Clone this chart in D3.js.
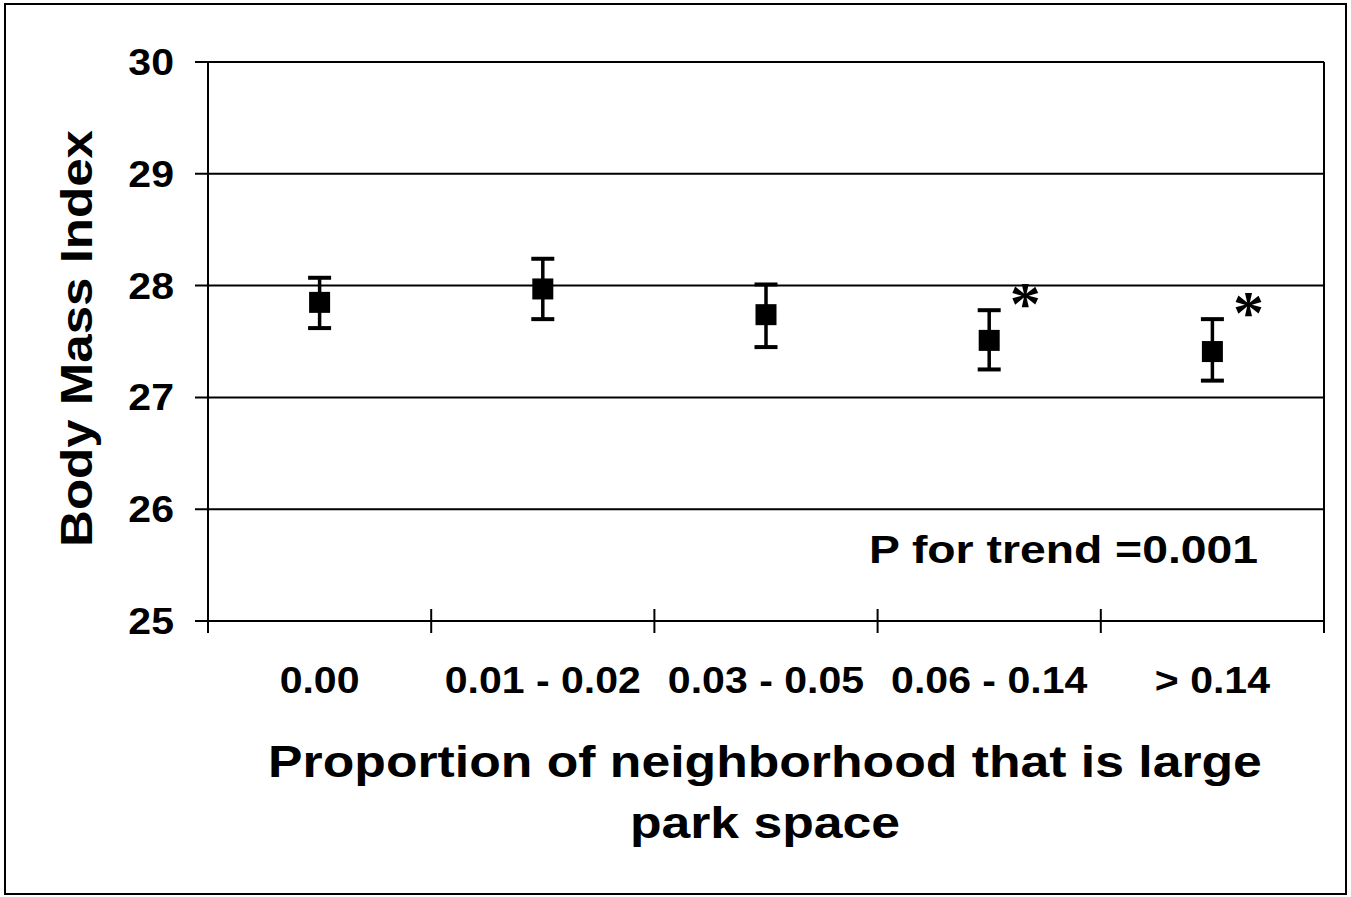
<!DOCTYPE html>
<html>
<head>
<meta charset="utf-8">
<script src="https://cdn.jsdelivr.net/npm/d3@7"></script>
<style>
  html, body { margin: 0; padding: 0; background: #fff; }
  svg { display: block; }
  text { font-family: "Liberation Sans", Arial, sans-serif; font-weight: bold; fill: #000; }
</style>
</head>
<body>
<script>
// ---- data ----
const categories = ["0.00", "0.01 - 0.02", "0.03 - 0.05", "0.06 - 0.14", "> 0.14"];
const bmiMean  = [27.85, 27.97, 27.74, 27.51, 27.41];
const bmiUpper = [28.07, 28.24, 28.01, 27.78, 27.70];
const bmiLower = [27.62, 27.70, 27.45, 27.25, 27.15];
const significant = [false, false, false, true, true];
const yTicks = [25, 26, 27, 28, 29, 30];
const yTitle = "Body Mass Index";
const xTitleLines = ["Proportion of neighborhood that is large", "park space"];
const annotation = "P for trend =0.001";

const W = 1351, H = 897;
const SX = 1.14; // horizontal glyph stretch seen in the reference

const svg = d3.select("body").append("svg").attr("width", W).attr("height", H);

svg.append("rect").attr("x", 5).attr("y", 4).attr("width", 1341).attr("height", 890)
  .attr("fill", "#fff").attr("stroke", "#000").attr("stroke-width", 2);

const pLeft = 208, pRight = 1324, pTop = 62, pBottom = 621;
const x = d3.scaleBand().domain(categories).range([pLeft, pRight]).padding(0);
const y = d3.scaleLinear().domain([25, 30]).range([pBottom, pTop]);

function stretch(sel, f) {
  sel.each(function () {
    const w = this.getComputedTextLength();
    d3.select(this).attr("textLength", w * (f || SX)).attr("lengthAdjust", "spacingAndGlyphs");
  });
}

// gridlines + y ticks
const g = svg.append("g");
g.selectAll("line.grid").data(yTicks).join("line")
  .attr("x1", pLeft - 13).attr("x2", pRight)
  .attr("y1", d => y(d)).attr("y2", d => y(d))
  .attr("stroke", "#000").attr("stroke-width", 2);

// left axis and right border
[pLeft, pRight].forEach(xx => {
  g.append("line").attr("x1", xx).attr("x2", xx).attr("y1", pTop).attr("y2", pBottom + 12)
    .attr("stroke", "#000").attr("stroke-width", 2);
});
// x category boundary ticks
const bounds = categories.slice(1).map(c => x(c));
g.selectAll("line.xt").data(bounds).join("line")
  .attr("x1", d => d).attr("x2", d => d)
  .attr("y1", pBottom - 12).attr("y2", pBottom + 12)
  .attr("stroke", "#000").attr("stroke-width", 2);

// y tick labels
const yl = g.selectAll("text.yl").data(yTicks).join("text")
  .attr("x", 174).attr("y", d => y(d) + 13)
  .attr("text-anchor", "end").attr("font-size", 36)
  .text(d => d);
stretch(yl);

// x tick labels
const xl = g.selectAll("text.xl").data(categories).join("text")
  .attr("x", d => x(d) + x.bandwidth() / 2).attr("y", 693)
  .attr("text-anchor", "middle").attr("font-size", 36)
  .text(d => d);
stretch(xl);

// error bars
const pts = categories.map((c, i) => ({ c, m: bmiMean[i], hi: bmiUpper[i], lo: bmiLower[i], sig: significant[i] }));
const cx = d => x(d.c) + x.bandwidth() / 2;
const eb = svg.append("g");
eb.selectAll("line.stem").data(pts).join("line")
  .attr("x1", cx).attr("x2", cx).attr("y1", d => y(d.hi)).attr("y2", d => y(d.lo))
  .attr("stroke", "#000").attr("stroke-width", 3.5);
eb.selectAll("line.capt").data(pts).join("line")
  .attr("x1", d => cx(d) - 11.5).attr("x2", d => cx(d) + 11.5)
  .attr("y1", d => y(d.hi)).attr("y2", d => y(d.hi))
  .attr("stroke", "#000").attr("stroke-width", 4);
eb.selectAll("line.capb").data(pts).join("line")
  .attr("x1", d => cx(d) - 11.5).attr("x2", d => cx(d) + 11.5)
  .attr("y1", d => y(d.lo)).attr("y2", d => y(d.lo))
  .attr("stroke", "#000").attr("stroke-width", 4);
eb.selectAll("rect.m").data(pts).join("rect")
  .attr("x", d => cx(d) - 10.5).attr("y", d => y(d.m) - 10.5)
  .attr("width", 21).attr("height", 21).attr("fill", "#000");

// significance asterisks
eb.selectAll("text.ast").data(pts.filter(d => d.sig)).join("text")
  .attr("x", d => cx(d) + 36).attr("y", d => y(d.hi) - 15 + 29)
  .attr("text-anchor", "middle")
  .style("font-family", "'Liberation Serif', 'Times New Roman', serif")
  .style("font-weight", "bold")
  .attr("font-size", 62)
  .text("*");

// annotation
svg.append("text").attr("x", 869).attr("y", 563).attr("font-size", 38)
  .attr("textLength", 389).attr("lengthAdjust", "spacingAndGlyphs")
  .text(annotation);

// x title
const xt = svg.selectAll("text.xtitle").data(xTitleLines).join("text")
  .attr("x", (pLeft + pRight) / 2 - 1).attr("y", (d, i) => 777 + i * 61)
  .attr("text-anchor", "middle").attr("font-size", 44)
  .text(d => d);
stretch(xt, 1.175);

// y title
const ytl = svg.append("text")
  .attr("transform", `translate(92, ${(547 + 130) / 2}) rotate(-90)`)
  .attr("text-anchor", "middle").attr("font-size", 44)
  .text(yTitle);
stretch(ytl, 1.16);
</script>
</body>
</html>
